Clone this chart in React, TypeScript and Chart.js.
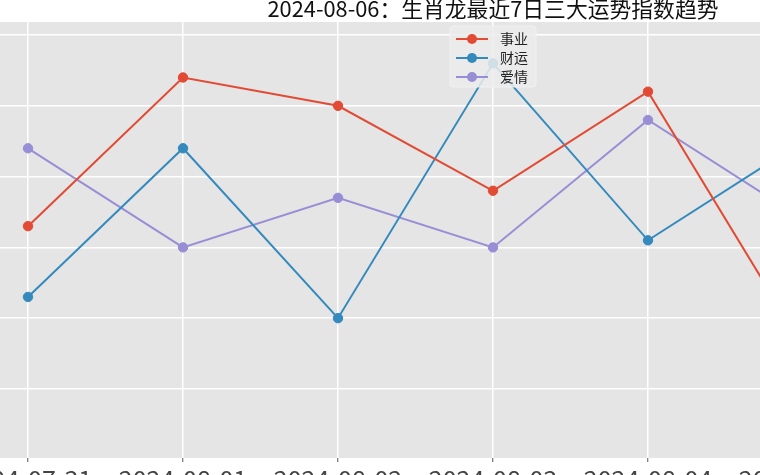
import React, { useEffect, useRef } from "react";
import { Chart, registerables } from "chart.js";

Chart.register(...registerables);

const categories = [
  "2024-07-31",
  "2024-08-01",
  "2024-08-02",
  "2024-08-03",
  "2024-08-04",
  "2024-08-05",
  "2024-08-06",
];
const careerValues = [73, 94, 90, 78, 92, 56, 43];
const wealthValues = [63, 84, 60, 96, 71, 85, 99];
const loveValues = [84, 70, 77, 70, 88, 74, 62];
const seriesNames = ["事业", "财运", "爱情"];
const seriesColors = ["#E24A33", "#348ABD", "#988ED5"];
const titleText = "2024-08-06：生肖龙最近7日三大运势指数趋势";
const yMin = 40.25;
const yMax = 101.84;
const yStep = 10;

const FONT = "'Noto Sans CJK SC', 'DejaVu Sans', sans-serif";

const CW = 1186;
const CH = 520;

const bgPlugin = {
  id: "plotBg",
  beforeDraw(chart: any) {
    const { ctx, chartArea } = chart;
    if (!chartArea) return;
    ctx.save();
    ctx.fillStyle = "#E5E5E5";
    ctx.fillRect(
      chartArea.left,
      chartArea.top,
      chartArea.right - chartArea.left,
      chartArea.bottom - chartArea.top
    );
    ctx.restore();
  },
};

const legendPlugin = {
  id: "boxLegend",
  afterDatasetsDraw(chart: any) {
    const { ctx, chartArea } = chart;
    const cx = (chartArea.left + chartArea.right) / 2;
    const w = 86;
    const h = 61;
    const left = cx - w / 2;
    const top = chartArea.top + 4;
    ctx.save();
    ctx.fillStyle = "rgba(236,236,236,0.85)";
    ctx.strokeStyle = "rgba(242,242,242,0.9)";
    ctx.lineWidth = 1;
    ctx.beginPath();
    if ((ctx as any).roundRect) {
      (ctx as any).roundRect(left, top, w, h, 3);
    } else {
      ctx.rect(left, top, w, h);
    }
    ctx.fill();
    ctx.stroke();
    chart.data.datasets.forEach((ds: any, i: number) => {
      const y = chartArea.top + 17 + i * 19;
      ctx.strokeStyle = ds.borderColor;
      ctx.lineWidth = 2;
      ctx.beginPath();
      ctx.moveTo(left + 6, y);
      ctx.lineTo(left + 38, y);
      ctx.stroke();
      ctx.fillStyle = ds.borderColor;
      ctx.beginPath();
      ctx.arc(left + 22, y, 5, 0, Math.PI * 2);
      ctx.fill();
      ctx.fillStyle = "#222";
      ctx.font = `14px ${FONT}`;
      ctx.textBaseline = "middle";
      ctx.textAlign = "left";
      ctx.fillText(ds.label, left + 50, y);
    });
    ctx.restore();
  },
};

export default function App() {
  const ref = useRef<HTMLCanvasElement | null>(null);

  useEffect(() => {
    if (!ref.current) return;
    const seriesValues = [careerValues, wealthValues, loveValues];
    const chart = new Chart(ref.current, {
      type: "line",
      data: {
        datasets: seriesValues.map((vals, s) => ({
          label: seriesNames[s],
          data: vals.map((v, i) => ({ x: i, y: v })),
          borderColor: seriesColors[s],
          backgroundColor: seriesColors[s],
          pointBackgroundColor: seriesColors[s],
          pointBorderColor: seriesColors[s],
          borderWidth: 2,
          pointRadius: 4.7,
          pointBorderWidth: 1,
          tension: 0,
          fill: false,
          clip: false as any,
        })),
      },
      options: {
        animation: false,
        responsive: false,
        maintainAspectRatio: false,
        layout: {
          padding: { left: 81.5, right: 81.5, top: 0, bottom: 2 },
        },
        plugins: {
          legend: { display: false },
          tooltip: { enabled: false },
          title: {
            display: true,
            text: titleText,
            color: "#111",
            font: { family: FONT, size: 21.8, weight: "normal" as any },
            padding: { top: 15.2, bottom: 0.64 },
          },
        },
        scales: {
          x: {
            type: "linear",
            min: -0.3,
            max: 6.3,
            border: { display: false },
            grid: {
              color: "#FFFFFF",
              lineWidth: 1.5,
              drawTicks: true,
              tickLength: 4,
              tickColor: "#555555",
              tickWidth: 1,
            },
            ticks: {
              stepSize: 1,
              includeBounds: false,
              autoSkip: false,
              maxRotation: 0,
              padding: 2,
              color: "#444444",
              font: { family: FONT, size: 25 },
              callback: (v: any) => categories[Number(v)] ?? "",
            },
            afterFit: (scale: any) => {
              scale.height = 40;
            },
          },
          y: {
            type: "linear",
            min: yMin,
            max: yMax,
            border: { display: false },
            grid: {
              color: "#FFFFFF",
              lineWidth: 1.5,
              drawTicks: false,
            },
            ticks: {
              display: false,
              stepSize: yStep,
              includeBounds: false,
            },
            afterFit: (scale: any) => {
              scale.width = 0;
            },
          },
        },
      },
      plugins: [bgPlugin, legendPlugin],
    });
    return () => chart.destroy();
  }, []);

  return (
    <div
      style={{
        position: "fixed",
        left: 0,
        top: 0,
        width: 760,
        height: 475,
        overflow: "hidden",
        background: "#fff",
      }}
    >
      <canvas
        ref={ref}
        width={CW}
        height={CH}
        style={{
          position: "absolute",
          left: -100,
          top: -20,
          width: CW,
          height: CH,
        }}
      />
    </div>
  );
}
